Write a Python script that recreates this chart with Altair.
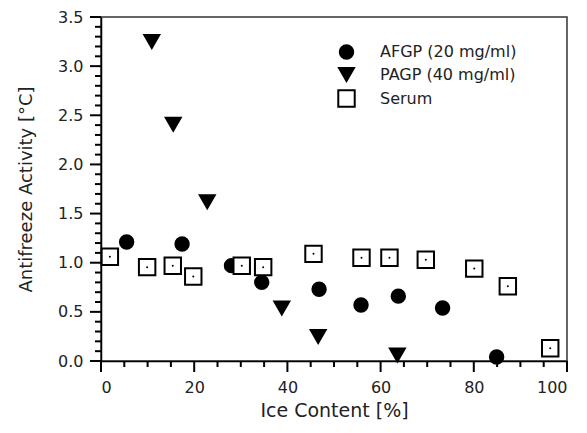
import altair as alt
import pandas as pd

afgp_x = [5.5, 17.4, 28.0, 34.5, 46.8, 55.8, 63.8, 73.3, 84.9]
afgp_y = [1.21, 1.19, 0.97, 0.80, 0.73, 0.57, 0.66, 0.54, 0.04]

pagp_x = [10.9, 15.5, 22.8, 38.8, 46.6, 63.6]
pagp_y = [3.25, 2.41, 1.62, 0.54, 0.25, 0.06]

serum_x = [1.9, 9.9, 15.4, 19.8, 30.2, 34.8, 45.6, 55.9, 61.9, 69.7, 80.1, 87.3, 96.4]
serum_y = [1.06, 0.955, 0.97, 0.86, 0.97, 0.955, 1.09, 1.05, 1.05, 1.03, 0.94, 0.76, 0.13]

series_names = ["AFGP (20 mg/ml)", "PAGP (40 mg/ml)", "Serum"]

x_major = [0, 20, 40, 60, 80, 100]
x_minor = [5, 10, 15, 25, 30, 35, 45, 50, 55, 65, 70, 75, 85, 90, 95]
y_major = [0.0, 0.5, 1.0, 1.5, 2.0, 2.5, 3.0, 3.5]
y_minor = [round(i * 0.1, 1) for i in range(36) if i % 5 != 0]

rows = []
for x, y in zip(afgp_x, afgp_y):
    rows.append({"ice": x, "act": y, "series": series_names[0]})
for x, y in zip(pagp_x, pagp_y):
    rows.append({"ice": x, "act": y, "series": series_names[1]})
for x, y in zip(serum_x, serum_y):
    rows.append({"ice": x, "act": y, "series": series_names[2]})
df = pd.DataFrame(rows)

FONT = "DejaVu Sans"
W, H = 466, 344

xscale = alt.Scale(domain=[0, 100], nice=False, zero=False)
yscale = alt.Scale(domain=[0, 3.5], nice=False, zero=False)

x_main = alt.X(
    "ice:Q",
    scale=xscale,
    axis=alt.Axis(
        orient="bottom",
        title="Ice Content [%]",
        values=x_major,
        format="d",
        ticks=False,
        tickSize=0,
        labelPadding=18,
        labelFontSize=16,
        titleFontSize=19,
        titleFontWeight="normal",
        titlePadding=6,
        grid=False,
        domainColor="black",
        domainWidth=1.5,
        labelColor="#222",
        titleColor="#222",
        labelFont=FONT,
        titleFont=FONT,
    ),
)
y_main = alt.Y(
    "act:Q",
    scale=yscale,
    axis=alt.Axis(
        orient="left",
        title="Antifreeze Activity [°C]",
        values=y_major,
        format=".1f",
        ticks=False,
        tickSize=0,
        labelPadding=18,
        labelFontSize=16,
        titleFontSize=18,
        titleFontWeight="normal",
        titlePadding=22,
        grid=False,
        domainColor="black",
        domainWidth=1.5,
        labelColor="#222",
        titleColor="#222",
        labelFont=FONT,
        titleFont=FONT,
    ),
)

leg = dict(
    title=None,
    orient="none",
    legendX=236,
    legendY=27,
    padding=0,
    labelFontSize=16,
    labelFont=FONT,
    labelColor="#222",
    symbolStrokeWidth=2,
    labelOffset=24,
    rowPadding=1,
)

points = alt.Chart(df).mark_point(filled=True, opacity=1, strokeWidth=2).encode(
    x=x_main,
    y=y_main,
    shape=alt.Shape(
        "series:N",
        scale=alt.Scale(domain=series_names, range=["circle", "triangle-down", "square"]),
        legend=alt.Legend(**leg),
    ),
    fill=alt.Fill(
        "series:N",
        scale=alt.Scale(domain=series_names, range=["black", "black", "white"]),
        legend=alt.Legend(**leg),
    ),
    stroke=alt.Stroke(
        "series:N",
        scale=alt.Scale(domain=series_names, range=["black", "black", "black"]),
        legend=alt.Legend(**leg),
    ),
    size=alt.Size(
        "series:N",
        scale=alt.Scale(domain=series_names, range=[180, 270, 210]),
        legend=alt.Legend(**leg),
    ),
)

dots = alt.Chart(df).transform_filter(
    alt.datum.series == series_names[2]
).mark_circle(size=4, color="black", opacity=1).encode(
    x=alt.X("ice:Q", scale=xscale, axis=None),
    y=alt.Y("act:Q", scale=yscale, axis=None),
)

# axis tick marks drawn through the shared scales
xmaj = alt.Chart(pd.DataFrame({"v": x_major})).mark_rule(color="black", strokeWidth=2).encode(
    x=alt.X("v:Q", scale=xscale, axis=None), y=alt.value(H), y2=alt.value(H + 11)
)
xmin = alt.Chart(pd.DataFrame({"v": x_minor})).mark_rule(color="black", strokeWidth=2).encode(
    x=alt.X("v:Q", scale=xscale, axis=None), y=alt.value(H), y2=alt.value(H + 6)
)
ymaj = alt.Chart(pd.DataFrame({"v": y_major})).mark_rule(color="black", strokeWidth=2).encode(
    y=alt.Y("v:Q", scale=yscale, axis=None), x=alt.value(-11), x2=alt.value(0)
)
ymin = alt.Chart(pd.DataFrame({"v": y_minor})).mark_rule(color="black", strokeWidth=2).encode(
    y=alt.Y("v:Q", scale=yscale, axis=None), x=alt.value(-6), x2=alt.value(0)
)

chart = alt.layer(points, dots, xmaj, xmin, ymaj, ymin).resolve_axis(
    x="independent", y="independent"
).properties(
    width=W,
    height=H,
    padding={"left": 93, "top": 9, "right": 12, "bottom": 64},
    autosize="none",
    background="white",
).configure_view(stroke="#333", strokeWidth=1.5)

chart.save("out.html", embed_options={"renderer": "svg", "actions": False})
